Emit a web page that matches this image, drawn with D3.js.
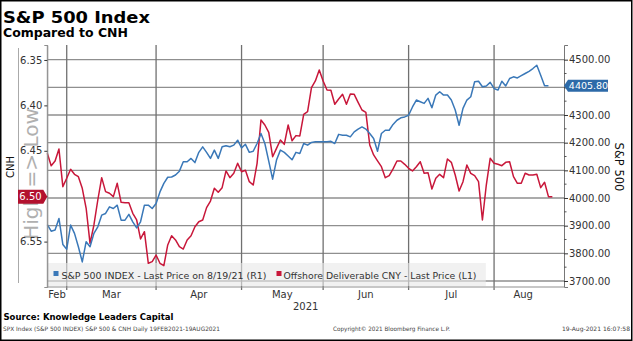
<!DOCTYPE html>
<html><head><meta charset="utf-8">
<script src="https://cdn.jsdelivr.net/npm/d3@7"></script>
<style>
html,body{margin:0;padding:0;background:#fff;}
svg{display:block;}
text{font-family:"DejaVu Sans",Verdana,sans-serif;}
</style></head>
<body>
<svg id="c" width="633" height="341"></svg>
<script>
// ---- data (daily, weekdays starting 22-Feb-2021) ----
const startDate = "2021-02-22";
const cnhValues = [6.4528,6.4664,6.4612,6.448,6.4895,6.4803,6.4704,6.4759,6.4785,6.4913,
6.5133,6.5519,6.5317,6.5042,6.4796,6.495,6.4968,6.5005,6.4858,6.5067,
6.5071,6.5071,6.5189,6.5262,6.5471,6.5391,6.5739,6.5721,6.5648,6.5739,
6.5765,6.5537,6.5435,6.5482,6.5556,6.5582,6.5482,6.5435,6.5336,6.5281,
6.5262,6.5126,6.5053,6.4913,6.4957,6.4906,6.4722,6.4796,6.4748,6.4638,
6.473,6.4715,6.484,6.4877,6.4638,6.4161,6.4216,6.4297,6.4565,6.4473,
6.4381,6.4429,6.4216,6.439,6.4333,6.4337,6.4098,6.4069,6.3805,6.3731,
6.361,6.3731,6.383,6.3834,6.3988,6.393,6.3878,6.3988,6.3874,6.3878,
6.3966,6.4051,6.4076,6.4436,6.4546,6.4612,6.4675,6.4796,6.4774,6.47,
6.4612,6.4612,6.4649,6.4693,6.4722,6.4675,6.462,6.4748,6.4741,6.4921,
6.4803,6.4759,6.4796,6.459,6.4627,6.4767,6.4943,6.484,6.4656,6.4748,
6.4774,6.484,6.5262,6.4877,6.4583,6.4638,6.4649,6.4664,6.4627,6.462,
6.4785,6.4858,6.4858,6.4748,6.4767,6.4767,6.4759,6.4906,6.4847,6.5005,6.5005];
const spxValues = [3904,3880,3884,3926,3832,3815,3902,3872,3824,3769,
3842,3824,3872,3896,3938,3944,3968,3962,3974,3920,
3920,3941,3914,3892,3914,3974,3974,3962,3980,4022,
4053,4075,4076,4083,4097,4131,4131,4143,4128,4165,
4185,4165,4143,4173,4143,4185,4189,4185,4191,4209,
4181,4194,4165,4169,4197,4233,4197,4133,4068,4137,
4173,4165,4152,4138,4165,4161,4197,4191,4201,4203,
4203,4203,4203,4205,4197,4230,4227,4227,4221,4239,
4249,4257,4249,4233,4215,4169,4233,4245,4245,4266,
4281,4290,4293,4299,4329,4354,4348,4342,4360,4326,
4372,4384,4372,4372,4354,4318,4263,4324,4354,4366,
4420,4422,4402,4405,4418,4396,4390,4422,4405,4432,
4438,4434,4442,4450,4458,4468,4480,4444,4406,4405.80];
const leftTicks = [6.35,6.40,6.45,6.50,6.55];
const rightTicks = [3700,3800,3900,4000,4100,4200,4300,4400,4500];
const rightMinor = [3750,3850,3950,4050,4150,4250,4350,4450];
const monthNames = ["Feb","Mar","Apr","May","Jun","Jul","Aug"];
const yearLabel = "2021";
const seriesNames = ["S&P 500 INDEX - Last Price on 8/19/21 (R1)","Offshore Deliverable CNY - Last Price (L1)"];

// ---- layout ----
const W=633,H=341;
const L=47.3,R=564,T=45,B=287;
const blue="#3a78b8", red="#c8173a", grid="#8f8f8f";

// weekday dates
const dates=[];
{let d=d3.timeParse("%Y-%m-%d")(startDate);
 while(dates.length<cnhValues.length){const wd=d.getDay(); if(wd!==0&&wd!==6) dates.push(d); d=d3.timeDay.offset(d,1);} }
const monthStarts=[0];
for(let i=1;i<dates.length;i++) if(dates[i].getMonth()!==dates[i-1].getMonth()) monthStarts.push(i);

const x=d3.scaleLinear().domain([0,133]).range([L,R]);
const yL=d3.scaleLinear().domain([6.3335,6.60]).range([T,B]);
const yR=d3.scaleLinear().domain([3678.3,4553]).range([B,T]);

const svg=d3.select("#c");
svg.append("rect").attr("width",W).attr("height",H).attr("fill","#fff");

// horizontal grid
svg.append("g").selectAll("line").data(rightTicks).join("line")
 .attr("x1",L).attr("x2",R).attr("y1",d=>yR(d)).attr("y2",d=>yR(d))
 .attr("stroke",grid).attr("stroke-width",1.3);
// vertical grid (month starts)
svg.append("g").selectAll("line").data(monthStarts.slice(1)).join("line")
 .attr("x1",d=>x(d)).attr("x2",d=>x(d)).attr("y1",T).attr("y2",B+3)
 .attr("stroke","#707070").attr("stroke-width",1.3);

// legend background
svg.append("rect").attr("x",L).attr("y",263).attr("width",438.5).attr("height",23)
 .attr("fill","#e8e8e8").attr("opacity",0.6);

// lines
const lineL=d3.line().x((d,i)=>x(i)).y(d=>yL(d));
const lineR=d3.line().x((d,i)=>x(i)).y(d=>yR(d));
svg.append("path").attr("d",lineL(cnhValues)).attr("fill","none").attr("stroke",red).attr("stroke-width",1.5).attr("stroke-linejoin","round");
svg.append("path").attr("d",lineR(spxValues)).attr("fill","none").attr("stroke",blue).attr("stroke-width",1.5).attr("stroke-linejoin","round");

// legend
const lg=svg.append("g");
lg.append("rect").attr("x",53.5).attr("y",271).attr("width",5).attr("height",5).attr("fill",blue);
lg.append("text").attr("x",61.5).attr("y",278.5).attr("font-size",9.5).attr("fill","#333")
 .attr("textLength",205).attr("lengthAdjust","spacingAndGlyphs").text(seriesNames[0]);
lg.append("rect").attr("x",276.5).attr("y",271).attr("width",5).attr("height",5).attr("fill",red);
lg.append("text").attr("x",283.5).attr("y",278.5).attr("font-size",9.5).attr("fill","#333")
 .attr("textLength",193).attr("lengthAdjust","spacingAndGlyphs").text(seriesNames[1]);

// frame lines
svg.append("line").attr("x1",L).attr("x2",L).attr("y1",T).attr("y2",B).attr("stroke",grid).attr("stroke-width",1);
svg.append("line").attr("x1",L).attr("x2",R).attr("y1",B).attr("y2",B).attr("stroke",grid).attr("stroke-width",1);
svg.append("line").attr("x1",18.5).attr("x2",18.5).attr("y1",48).attr("y2",283).attr("stroke","#aaa").attr("stroke-width",1);

// watermark
svg.append("text").attr("transform","translate(31,174) rotate(-90)").attr("text-anchor","middle")
 .attr("dominant-baseline","central").attr("font-size",20).attr("fill","#b0b0b0").text("High => Low");

// left axis
const axL=svg.append("g").attr("transform",`translate(${L},0)`)
 .call(d3.axisLeft(yL).tickValues(leftTicks).tickFormat(d3.format(".2f")).tickSize(3).tickPadding(2));
axL.select(".domain").attr("stroke",grid);
axL.selectAll("line").attr("stroke","#333");
axL.selectAll("text").attr("font-size",10).attr("fill","#333").attr("font-family","DejaVu Sans");

// right axis (4400 label is hidden under the last-price tag)
const axR=svg.append("g").attr("transform",`translate(${R},0)`)
 .call(d3.axisRight(yR).tickValues(rightTicks).tickFormat(d=>d===4400?"":d3.format(".2f")(d)).tickSize(4).tickPadding(1));
axR.select(".domain").attr("stroke","#777");
axR.selectAll("line").attr("stroke","#333");
axR.selectAll("text").attr("font-size",10).attr("fill","#333").attr("font-family","DejaVu Sans");
svg.append("g").selectAll("line").data(rightMinor).join("line")
 .attr("x1",R).attr("x2",R+2.5).attr("y1",d=>yR(d)).attr("y2",d=>yR(d)).attr("stroke","#555");

// axis titles
svg.append("text").attr("transform","translate(10,167) rotate(-90)").attr("text-anchor","middle")
 .attr("dominant-baseline","central").attr("font-size",10).attr("fill","#111").text("CNH");
svg.append("text").attr("transform","translate(619,167) rotate(90)").attr("text-anchor","middle")
 .attr("dominant-baseline","central").attr("font-size",11.5).attr("fill","#111").text("S&P 500");

// month labels
const ends=monthStarts.slice(1).concat([cnhValues.length-1]);
svg.append("g").selectAll("text").data(monthNames).join("text")
 .attr("x",(d,i)=>x((monthStarts[i]+ends[i])/2)).attr("y",297.5).attr("text-anchor","middle")
 .attr("font-size",10).attr("fill","#333").text(d=>d);
svg.append("text").attr("x",(L+R)/2).attr("y",310).attr("text-anchor","middle")
 .attr("font-size",10).attr("fill","#333").text(yearLabel);

// last-price tags
const lastS=spxValues[spxValues.length-1], lastC=cnhValues[cnhValues.length-1];
{const yy=yR(lastS);
 svg.append("path").attr("d",`M${R},${yy} L${R+4},${yy-6} L${R+44},${yy-6} L${R+44},${yy+6} L${R+4},${yy+6} Z`).attr("fill","#2d6aa8");
 svg.append("text").attr("x",R+24.5).attr("y",yy).attr("text-anchor","middle").attr("dominant-baseline","central")
  .attr("font-size",9.5).attr("fill","#fff").text(d3.format(".2f")(lastS));}
{const yy=yL(lastC);
 svg.append("path").attr("d",`M${L},${yy} L${L-4},${yy-7} L${18},${yy-7} L${18},${yy+7} L${L-4},${yy+7} Z`).attr("fill","#b3112e");
 svg.append("text").attr("x",30.5).attr("y",yy).attr("text-anchor","middle").attr("dominant-baseline","central")
  .attr("font-size",10).attr("fill","#fff").text(d3.format(".2f")(lastC));}

// titles
svg.append("text").attr("x",3).attr("y",22.5).attr("font-size",16).attr("font-weight","bold").attr("fill","#000")
 .attr("textLength",147).attr("lengthAdjust","spacingAndGlyphs").text("S&P 500 Index");
svg.append("text").attr("x",3).attr("y",37).attr("font-size",11.5).attr("font-weight","bold").attr("fill","#000")
 .attr("textLength",125).attr("lengthAdjust","spacingAndGlyphs").text("Compared to CNH");
svg.append("text").attr("x",3.5).attr("y",319.5).attr("font-size",8.5).attr("font-weight","bold").attr("fill","#000")
 .attr("textLength",170).attr("lengthAdjust","spacingAndGlyphs").text("Source: Knowledge Leaders Capital");
svg.append("text").attr("x",3).attr("y",331).attr("font-size",6).attr("fill","#444")
 .attr("textLength",217).attr("lengthAdjust","spacingAndGlyphs").text("SPX Index (S&P 500 INDEX) S&P 500 & CNH  Daily 19FEB2021-19AUG2021");
svg.append("text").attr("x",333).attr("y",331).attr("font-size",6).attr("fill","#444")
 .attr("textLength",117).attr("lengthAdjust","spacingAndGlyphs").text("Copyright© 2021 Bloomberg Finance L.P.");
svg.append("text").attr("x",562).attr("y",331).attr("font-size",6).attr("fill","#444")
 .attr("textLength",68).attr("lengthAdjust","spacingAndGlyphs").text("19-Aug-2021 16:07:58");

// outer border
svg.append("rect").attr("x",0.75).attr("y",0.75).attr("width",W-2).attr("height",H-1.5)
 .attr("fill","none").attr("stroke","#000").attr("stroke-width",1.5);
</script>
</body></html>
